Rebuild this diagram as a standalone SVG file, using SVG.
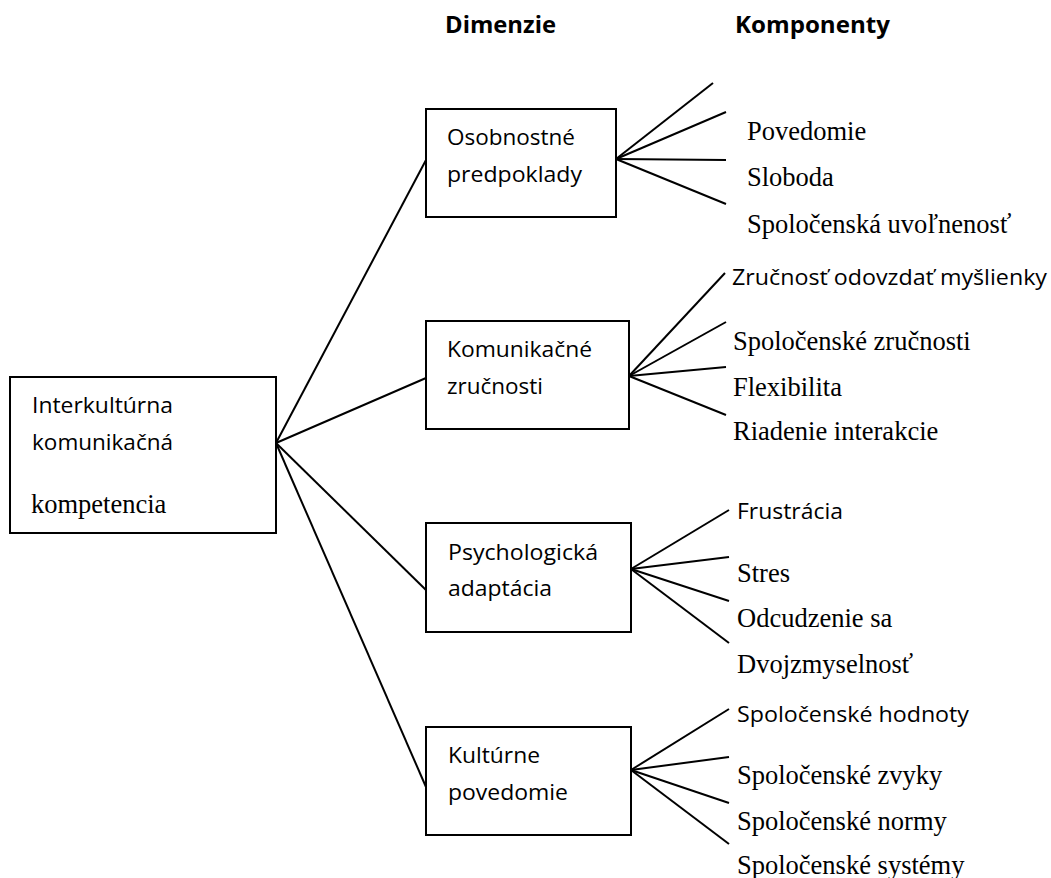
<svg xmlns="http://www.w3.org/2000/svg" width="1051" height="878" viewBox="0 0 1051 878">
<style>
.box{fill:#fff;stroke:#000;stroke-width:2}
.ln{stroke:#000;stroke-width:2;fill:none}
.s{font-family:"Open Sans","Liberation Sans",sans-serif;font-size:21px;fill:#000}
.h{font-family:"Open Sans","Liberation Sans",sans-serif;font-size:23.5px;font-weight:bold;fill:#000}
.r{font-family:"Liberation Serif","Times New Roman",serif;font-size:26.5px;fill:#000}
</style>
<rect width="1051" height="878" fill="#fff"/>
<g id="headers">
<text class="h" x="445" y="33" textLength="111" lengthAdjust="spacingAndGlyphs">Dimenzie</text>
<text class="h" x="735" y="33" textLength="155" lengthAdjust="spacingAndGlyphs">Komponenty</text>
</g>
<g id="connectors">
<line class="ln" x1="276" y1="443" x2="426" y2="160"/>
<line class="ln" x1="276" y1="443" x2="426" y2="378"/>
<line class="ln" x1="276" y1="443" x2="426" y2="590"/>
<line class="ln" x1="276" y1="443" x2="426" y2="787"/>
<line class="ln" x1="616" y1="159" x2="713" y2="83"/>
<line class="ln" x1="616" y1="159" x2="726" y2="112"/>
<line class="ln" x1="616" y1="159" x2="726" y2="160"/>
<line class="ln" x1="616" y1="159" x2="726" y2="204"/>
<line class="ln" x1="629" y1="376" x2="725" y2="273"/>
<line class="ln" x1="629" y1="376" x2="726" y2="322"/>
<line class="ln" x1="629" y1="376" x2="726" y2="367"/>
<line class="ln" x1="629" y1="376" x2="726" y2="415"/>
<line class="ln" x1="631" y1="569" x2="729" y2="510"/>
<line class="ln" x1="631" y1="569" x2="729" y2="557"/>
<line class="ln" x1="631" y1="569" x2="729" y2="601"/>
<line class="ln" x1="631" y1="569" x2="729" y2="643"/>
<line class="ln" x1="631" y1="770" x2="729" y2="709"/>
<line class="ln" x1="631" y1="770" x2="729" y2="757"/>
<line class="ln" x1="631" y1="770" x2="729" y2="803"/>
<line class="ln" x1="631" y1="770" x2="729" y2="844"/>
</g>
<g id="root">
<rect class="box" x="10" y="377" width="266" height="156"/>
<text class="s" x="32" y="413" textLength="141" lengthAdjust="spacingAndGlyphs">Interkultúrna</text>
<text class="s" x="32" y="450" textLength="141" lengthAdjust="spacingAndGlyphs">komunikačná</text>
<text class="r" x="31" y="513">kompetencia</text>
</g>
<g id="dim1">
<rect class="box" x="426" y="109" width="190" height="108"/>
<text class="s" x="447" y="145" textLength="128" lengthAdjust="spacingAndGlyphs">Osobnostné</text>
<text class="s" x="447" y="182" textLength="135" lengthAdjust="spacingAndGlyphs">predpoklady</text>
</g>
<g id="dim2">
<rect class="box" x="426" y="321" width="203" height="108"/>
<text class="s" x="447" y="357" textLength="145" lengthAdjust="spacingAndGlyphs">Komunikačné</text>
<text class="s" x="447" y="394" textLength="96" lengthAdjust="spacingAndGlyphs">zručnosti</text>
</g>
<g id="dim3">
<rect class="box" x="426" y="523" width="205" height="109"/>
<text class="s" x="448" y="560" textLength="150" lengthAdjust="spacingAndGlyphs">Psychologická</text>
<text class="s" x="448" y="596" textLength="104" lengthAdjust="spacingAndGlyphs">adaptácia</text>
</g>
<g id="dim4">
<rect class="box" x="426" y="727" width="205" height="108"/>
<text class="s" x="448" y="763" textLength="92" lengthAdjust="spacingAndGlyphs">Kultúrne</text>
<text class="s" x="448" y="800" textLength="120" lengthAdjust="spacingAndGlyphs">povedomie</text>
</g>
<g id="comp1">
<text class="r" x="747" y="140">Povedomie</text>
<text class="r" x="747" y="186">Sloboda</text>
<text class="r" x="747" y="233">Spoločenská uvoľnenosť</text>
</g>
<g id="comp2">
<text class="s" x="732" y="285" textLength="315" lengthAdjust="spacingAndGlyphs">Zručnosť odovzdať myšlienky</text>
<text class="r" x="733" y="350">Spoločenské zručnosti</text>
<text class="r" x="733" y="396">Flexibilita</text>
<text class="r" x="733" y="440">Riadenie interakcie</text>
</g>
<g id="comp3">
<text class="s" x="737" y="519" textLength="106" lengthAdjust="spacingAndGlyphs">Frustrácia</text>
<text class="r" x="737" y="582">Stres</text>
<text class="r" x="737" y="627">Odcudzenie sa</text>
<text class="r" x="737" y="673">Dvojzmyselnosť</text>
</g>
<g id="comp4">
<text class="s" x="737" y="722" textLength="232" lengthAdjust="spacingAndGlyphs">Spoločenské hodnoty</text>
<text class="r" x="737" y="784">Spoločenské zvyky</text>
<text class="r" x="737" y="830">Spoločenské normy</text>
<text class="r" x="737" y="874">Spoločenské systémy</text>
</g>
</svg>
